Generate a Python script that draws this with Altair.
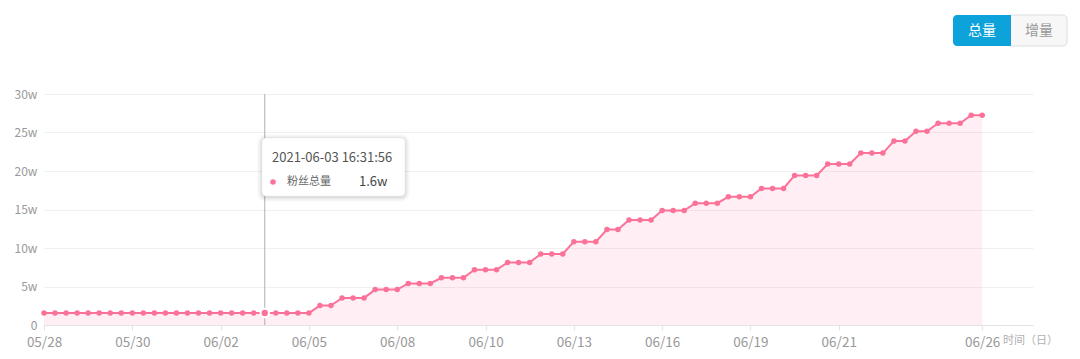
import altair as alt
import pandas as pd

# ---- data (in units of w = 10,000) ----
fans_w = [
    1.56, 1.56, 1.56, 1.56, 1.56, 1.56, 1.56, 1.56, 1.56, 1.56,
    1.56, 1.56, 1.56, 1.56, 1.56, 1.56, 1.56, 1.56, 1.56, 1.56,
    1.56, 1.56, 1.56, 1.56, 1.56,
    2.52, 2.52,
    3.52, 3.52, 3.52,
    4.60, 4.60, 4.60,
    5.39, 5.39, 5.39,
    6.13, 6.13, 6.13,
    7.17, 7.17, 7.17,
    8.12, 8.12, 8.12,
    9.22, 9.22, 9.22,
    10.82, 10.82, 10.82,
    12.39, 12.39,
    13.65, 13.65, 13.65,
    14.86, 14.86, 14.86,
    15.82, 15.82, 15.82,
    16.65, 16.65, 16.65,
    17.73, 17.73, 17.73,
    19.43, 19.43, 19.43,
    20.90, 20.90, 20.90,
    22.33, 22.33, 22.33,
    23.90, 23.90,
    25.16, 25.16,
    26.20, 26.20, 26.20,
    27.25, 27.25,
]
tick_idx = [0, 8, 16, 24, 32, 40, 48, 56, 64, 72, 85]
tick_labels = ["05/28", "05/30", "06/02", "06/05", "06/08", "06/10",
               "06/13", "06/16", "06/19", "06/21", "06/26"]
y_ticks = [0, 5, 10, 15, 20, 25, 30]
hover_idx = 20
hover_time = "2021-06-03 16:31:56"
hover_value = "1.6w"
series_name = "粉丝总量"
x_title = "时间（日）"
buttons = ["总量", "增量"]

PINK = "#fb7299"
FONT = "Noto Sans CJK SC"
W, H = 989, 231

df = pd.DataFrame({"i": list(range(len(fans_w))), "v": fans_w})
hover_df = df[df["i"] == hover_idx]
one = pd.DataFrame({"k": [0]})

label_expr = "[{}][indexof([{}], datum.value)]".format(
    ",".join("'%s'" % s for s in tick_labels), ",".join(str(t) for t in tick_idx))

x_enc = alt.X("i:Q", scale=alt.Scale(domain=[0, 89.6], nice=False, zero=False),
              axis=alt.Axis(values=tick_idx, labelExpr=label_expr, grid=False,
                            domainColor="#e3e3e3", tickColor="#e3e3e3", tickSize=5,
                            labelColor="#999999", labelFontSize=13.5, labelPadding=5,
                            labelFont=FONT, labelOverlap=False, labelFlush=False,
                            title=None))
y_enc = alt.Y("v:Q", scale=alt.Scale(domain=[0, 30], nice=False),
              axis=alt.Axis(values=y_ticks,
                            labelExpr="datum.value == 0 ? '0' : datum.value + 'w'",
                            grid=True, gridColor="#f0f0f0", domain=False, ticks=False,
                            labelPadding=7, labelColor="#999999", labelFontSize=12,
                            labelFont=FONT, title=None))

base = alt.Chart(df)
area = base.mark_area(color=PINK, opacity=0.12).encode(x=x_enc, y=y_enc)
line = base.mark_line(color=PINK, strokeWidth=2).encode(x=x_enc, y=y_enc)
pts = base.mark_circle(color=PINK, size=30, opacity=1).encode(x=x_enc, y=y_enc)

rule = alt.Chart(hover_df).mark_rule(color="#b0b0b0", strokeWidth=1).encode(
    x=x_enc, y=alt.value(0), y2=alt.value(H))
hl = alt.Chart(hover_df).mark_circle(color=PINK, size=70, opacity=1,
                                      stroke="white", strokeWidth=2).encode(x=x_enc, y=y_enc)

x_title_txt = alt.Chart(pd.DataFrame({"t": [x_title]})).mark_text(
    align="left", baseline="middle", fontSize=11, color="#b0b0b0", font=FONT
).encode(x=alt.value(959), y=alt.value(H + 16), text="t:N")

# tooltip box
shadows = []
for k, op in [(5, 0.015), (4, 0.02), (3, 0.025), (2, 0.03), (1, 0.04)]:
    shadows.append(alt.Chart(one).mark_rect(color="#000000", opacity=op, cornerRadius=4 + k).encode(
        x=alt.value(218 - k), x2=alt.value(361 + k), y=alt.value(44 - k + 1), y2=alt.value(102 + k + 1)))
tip_box = alt.Chart(one).mark_rect(color="white", cornerRadius=4, stroke="#e8e8e8",
                                   strokeWidth=0.5).encode(
    x=alt.value(218), x2=alt.value(361), y=alt.value(44), y2=alt.value(102))
tip_time = alt.Chart(pd.DataFrame({"t": [hover_time]})).mark_text(
    align="left", baseline="middle", fontSize=13, color="#555555", font=FONT
).encode(x=alt.value(228), y=alt.value(64), text="t:N")
tip_dot = alt.Chart(one).mark_circle(color=PINK, size=30, opacity=1).encode(
    x=alt.value(229), y=alt.value(88))
tip_name = alt.Chart(pd.DataFrame({"t": [series_name]})).mark_text(
    align="left", baseline="middle", fontSize=11, color="#666666", font=FONT
).encode(x=alt.value(243), y=alt.value(88), text="t:N")
tip_val = alt.Chart(pd.DataFrame({"t": [hover_value]})).mark_text(
    align="left", baseline="middle", fontSize=13, color="#444444", font=FONT
).encode(x=alt.value(315), y=alt.value(88), text="t:N")

# buttons
btn_gray = alt.Chart(one).mark_rect(color="#f7f7f7", stroke="#dddddd", strokeWidth=1,
                                    cornerRadiusTopRight=4, cornerRadiusBottomRight=4).encode(
    x=alt.value(966), x2=alt.value(1023), y=alt.value(-79), y2=alt.value(-48))
btn_blue = alt.Chart(one).mark_rect(color="#0ea2da", cornerRadiusTopLeft=4,
                                    cornerRadiusBottomLeft=4).encode(
    x=alt.value(909), x2=alt.value(967), y=alt.value(-79), y2=alt.value(-48))
btn_t1 = alt.Chart(pd.DataFrame({"t": [buttons[0]]})).mark_text(
    align="center", baseline="middle", fontSize=14, color="white", font=FONT
).encode(x=alt.value(938), y=alt.value(-63), text="t:N")
btn_t2 = alt.Chart(pd.DataFrame({"t": [buttons[1]]})).mark_text(
    align="center", baseline="middle", fontSize=14, color="#999999", font=FONT
).encode(x=alt.value(995), y=alt.value(-63), text="t:N")

chart = alt.layer(
    area, line, pts, rule, hl, x_title_txt,
    *shadows, tip_box, tip_time, tip_dot, tip_name, tip_val,
    btn_gray, btn_blue, btn_t1, btn_t2,
).properties(
    width=W, height=H,
    padding={"left": 44, "top": 94, "right": 47, "bottom": 34},
    autosize=alt.AutoSizeParams(type="none"),
    background="white",
).configure_view(stroke=None)

chart.save("out.html", embed_options={"renderer": "svg", "actions": False})
